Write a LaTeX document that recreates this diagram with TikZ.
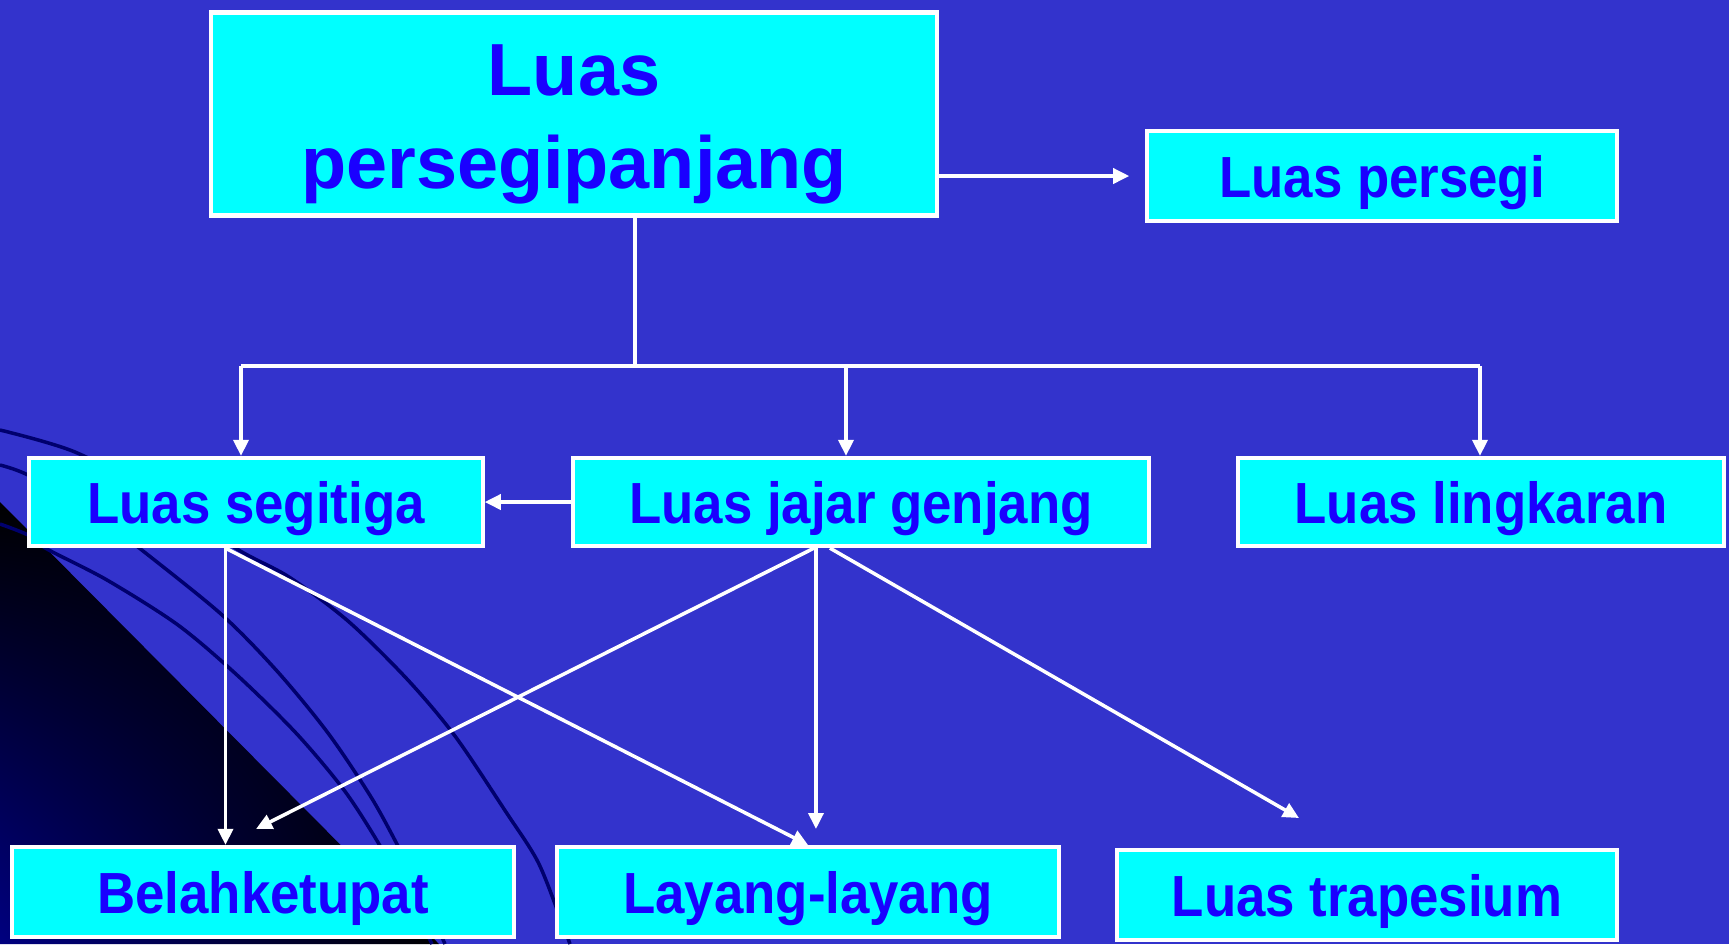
\documentclass[tikz,border=0pt]{standalone}
\usepackage{fontspec}
\setmainfont{Liberation Sans}
\newfontfamily\narrowsans{Liberation Sans}[FakeStretch=0.91]
\usetikzlibrary{arrows.meta,shadings}

\definecolor{slide}{RGB}{51,51,204}
\definecolor{boxfill}{RGB}{0,255,255}
\definecolor{boxtext}{RGB}{26,0,255}
\definecolor{swoosh}{RGB}{0,0,110}
\definecolor{navycorner}{RGB}{0,0,128}

\begin{document}
\begin{tikzpicture}[x=0.01cm, y=-0.01cm,
  box/.style={draw=white, line width=1.2pt, fill=boxfill, text=boxtext,
    font=\narrowsans\bfseries\fontsize{16.5}{20}\selectfont, inner sep=0pt,
    minimum height=0.88cm, text height=13pt, text depth=1pt},
  link/.style={white, line width=1pt, -{Triangle[length=0.16cm,width=0.15cm]}},
  bus/.style={white, line width=1pt},
  swooshline/.style={swoosh, line width=1pt}]

  \useasboundingbox (0,0) rectangle (1729,944);
  \fill[slide] (0,0) rectangle (1729,944);

  % dark corner
  \shade[upper left=black, upper right=black, lower right=black,
         lower left=navycorner]
    (0,502) -- (439,944) -- (0,944) -- cycle;

  % curves
  \draw[swooshline] plot[smooth] coordinates {(0,430) (75,452) (160,497)
    (237,549) (289,577) (348,621) (407,679) (455,736) (506,812) (538,862)
    (561,920) (570,944)};
  \draw[swooshline] plot[smooth] coordinates {(0,465) (28,475) (90,510)
    (138,547) (221,614) (277,671) (328,733) (371,797) (399,848) (425,900)
    (445,944)};
  \draw[swooshline] plot[smooth] coordinates {(0,524) (28,535) (47,549)
    (107,580) (178,625) (237,675) (296,733) (344,790) (379,844) (410,900)
    (432,944)};

  % boxes
  \node[box, minimum width=7.26cm, minimum height=2.03cm, align=center,
        font=\bfseries\fontsize{21}{26.5}\selectfont,
        text height=47pt, text depth=4.4pt]
    (persegipanjang) at (574,114) {Luas\\persegipanjang};
  \node[box, minimum width=4.69cm, minimum height=0.9cm]
    (persegi) at (1382,176) {Luas persegi};
  \node[box, minimum width=4.53cm] (segitiga) at (256,502) {Luas segitiga};
  \node[box, minimum width=5.76cm] (jajar) at (861,502) {Luas jajar genjang};
  \node[box, minimum width=4.86cm] (lingkaran) at (1481,502) {Luas lingkaran};
  \node[box, minimum width=5.01cm, minimum height=0.9cm]
    (belah) at (263,892) {Belahketupat};
  \node[box, minimum width=5.01cm, minimum height=0.9cm]
    (layang) at (808,892) {Layang-layang};
  \node[box, minimum width=5.0cm, minimum height=0.9cm]
    (trapesium) at (1367,895) {Luas trapesium};

  % free ends
  \coordinate (hub) at (635,366);
  \coordinate (busL) at (241,366);
  \coordinate (busM) at (846,366);
  \coordinate (busR) at (1480,366);
  \coordinate (belahTip) at (256,829);
  \coordinate (trapTip) at (1299,818);

  % connectors
  \draw[link, shorten >=0.16cm] (persegipanjang.east |- persegi.west)
    -- (persegi.west);
  \draw[bus] (persegipanjang.south -| hub) -- (hub);
  \draw[bus] (busL) -- (busR);
  \draw[link] (busL) -- (busL |- segitiga.north);
  \draw[link] (busM) -- (busM |- jajar.north);
  \draw[link] (busR) -- (busR |- lingkaran.north);
  \draw[link] (jajar.west) -- (segitiga.east);

  \draw[link] ([xshift=-0.305cm]segitiga.south)
    -- ([xshift=-0.305cm]segitiga.south |- belah.north);
  \draw[link] ([xshift=-0.305cm]segitiga.south) -- (layang.north);
  \draw[link] ([xshift=-0.47cm]jajar.south) -- (belahTip);
  \draw[link] ([xshift=-0.45cm]jajar.south)
    -- ([xshift=-0.45cm]jajar.south |- belahTip);
  \draw[link] ([xshift=-0.31cm]jajar.south) -- (trapTip);
\end{tikzpicture}
\end{document}
